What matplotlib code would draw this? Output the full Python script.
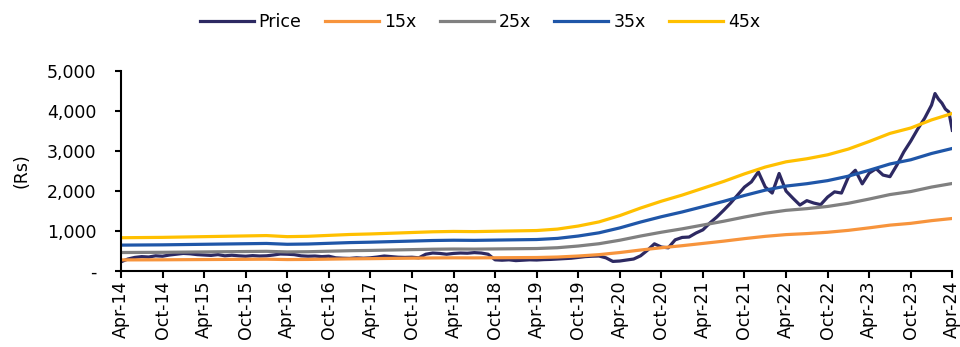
import numpy as np
import matplotlib.pyplot as plt

# month index from Apr-14 (0) to Apr-24 (120)
eps_months = [0, 3, 6, 9, 12, 15, 18, 21, 24, 27, 30, 33, 36, 39, 42, 45, 48, 51, 54, 57,
              60, 63, 66, 69, 72, 75, 78, 81, 84, 87, 90, 93, 96, 99, 102, 105, 108, 111, 114, 117, 120]
eps = [18.5, 18.6, 18.7, 18.9, 19.1, 19.3, 19.5, 19.7, 19.1, 19.3, 19.8, 20.3, 20.6, 21.0,
       21.4, 21.8, 22.0, 21.9, 22.1, 22.3, 22.5, 23.3, 25.0, 27.3, 30.8, 35.0, 38.8, 42.2,
       46.0, 49.8, 54.0, 57.8, 60.7, 62.4, 64.6, 67.8, 72.0, 76.5, 79.5, 84.0, 87.6]

price_months = [0, 1, 2, 3, 4, 5, 6, 7, 8, 9, 10, 11, 12, 13, 14, 15, 16, 17, 18, 19, 20,
                21, 22, 23, 24, 25, 26, 27, 28, 29, 30, 31, 32, 33, 34, 35, 36, 37, 38, 39,
                40, 41, 42, 43, 44, 45, 46, 47, 48, 49, 50, 51, 52, 53, 54, 55, 56, 57, 58,
                59, 60, 61, 62, 63, 64, 65, 66, 67, 68, 69, 70, 71, 72, 73, 74, 75, 76, 77,
                78, 79, 80, 81, 82, 83, 84, 85, 86, 87, 88, 89, 90, 91, 92, 93, 94, 95, 96,
                97, 98, 99, 100, 101, 102, 103, 104, 105, 106, 107, 108, 109, 110, 111, 112,
                113, 114, 115, 116, 117, 117.5, 118, 118.5, 119, 119.5, 120]
price = [230, 300, 340, 360, 350, 380, 370, 400, 420, 440, 430, 410, 400, 390, 410, 380,
         395, 380, 370, 385, 375, 380, 400, 425, 420, 410, 380, 370, 375, 360, 370, 330,
         320, 315, 330, 320, 330, 350, 375, 360, 345, 340, 345, 330, 420, 450, 440, 420,
         440, 450, 445, 460, 450, 420, 280, 270, 280, 260, 270, 280, 275, 285, 290, 300,
         310, 320, 340, 360, 370, 375, 330, 240, 250, 275, 300, 380, 520, 680, 600, 580,
         780, 840, 850, 950, 1030, 1200, 1350, 1520, 1700, 1900, 2100, 2230, 2480, 2100,
         1950, 2440, 2000, 1820, 1650, 1760, 1700, 1660, 1850, 1980, 1950, 2350, 2520,
         2180, 2450, 2560, 2400, 2360, 2650, 2980, 3250, 3550, 3820, 4150, 4440, 4300,
         4200, 4050, 3980, 3520]

multiples = [15, 25, 35, 45]
band_colors = ['#F7943C', '#808080', '#1F56A8', '#FFC000']
price_color = '#2D2962'

tick_months = list(range(0, 121, 6))
tick_labels = []
for yr in range(14, 25):
    tick_labels.append('Apr-%d' % yr)
    if yr < 24:
        tick_labels.append('Oct-%d' % yr)

plt.rcParams['font.family'] = 'DejaVu Sans'
fig = plt.figure(figsize=(9.6, 3.47), dpi=100)
ax = fig.add_axes([0.126, 0.219, 0.866, 0.576])

lw = 2.3
ax.plot(price_months, price, color=price_color, lw=lw, label='Price')
eps_arr = np.array(eps)
for m, c in zip(multiples, band_colors):
    ax.plot(eps_months, eps_arr * m, color=c, lw=lw, label='%dx' % m)

ax.set_xlim(0, 120)
ax.set_ylim(0, 5000)
ax.set_yticks([0, 1000, 2000, 3000, 4000, 5000])
ax.set_yticklabels(['-', '1,000', '2,000', '3,000', '4,000', '5,000'])
ax.set_xticks(tick_months)
ax.set_xticklabels(tick_labels, rotation=90)
ax.tick_params(axis='y', labelsize=12.5, length=4.5, width=1.5, pad=13)
ax.tick_params(axis='x', labelsize=12.5, length=5, width=1.5, pad=2)
ax.set_ylabel('(Rs)', fontsize=12.5, labelpad=12)

for s in ['top', 'right']:
    ax.spines[s].set_visible(False)
for s in ['left', 'bottom']:
    ax.spines[s].set_linewidth(1.5)

fig.legend(loc='center', bbox_to_anchor=(0.5, 1 - 22 / 347), ncol=5, frameon=False,
           fontsize=12.5, handlelength=3.1, handletextpad=0.3, columnspacing=1.35)

fig.savefig('out.png', dpi=100)
